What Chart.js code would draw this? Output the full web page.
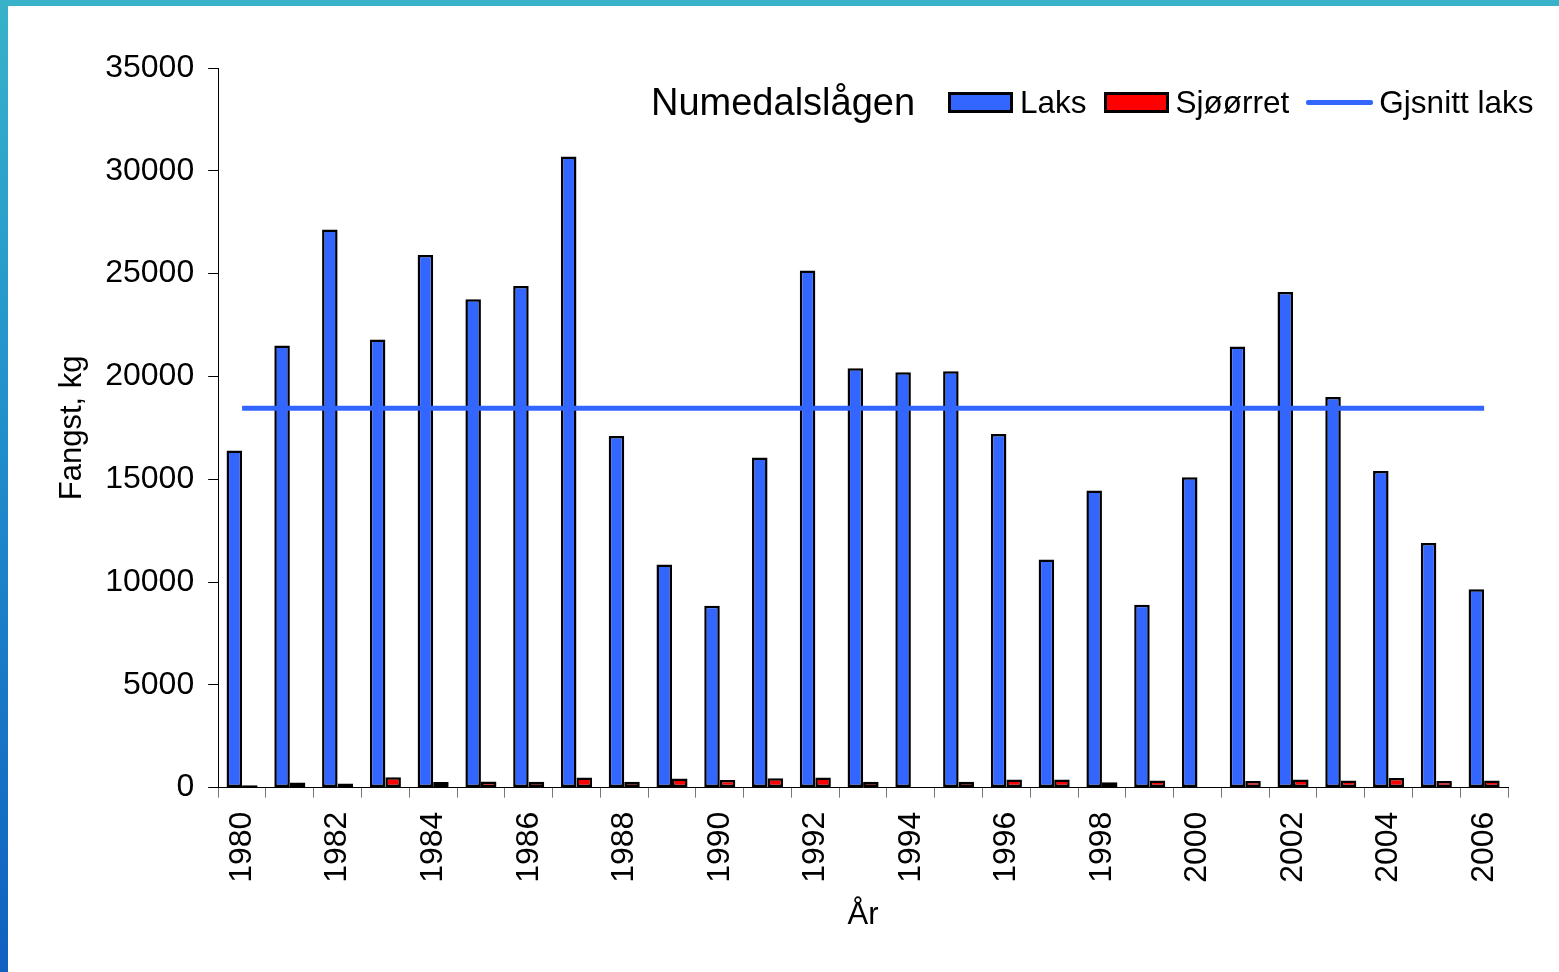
<!DOCTYPE html>
<html>
<head>
<meta charset="utf-8">
<title>Numedalslågen</title>
<script src="https://cdn.jsdelivr.net/npm/chart.js@4.4.1/dist/chart.umd.min.js"></script>
<style>
  body { margin: 0; background: #fff; font-family: 'Liberation Sans', Arial, sans-serif; }
  #wrap { position: relative; width: 1559px; height: 972px; overflow: hidden; background: #fff; }
  #chart { position: absolute; left: 0; top: 0; }
  #top-bar { position: absolute; left: 0; top: 0; width: 1559px; height: 6px; background: #38b2c9; }
  #left-bar { position: absolute; left: 0; top: 0; width: 8px; height: 972px;
              background: linear-gradient(#38b2c9, #2392cc 40%, #1060c0); }
  #legend { position: absolute; left: 651px; top: 80px; height: 44px; display: flex; align-items: center;
            white-space: nowrap; color: #000; font-size: 31.5px; }
  #legend .title { font-size: 38px; margin-right: 33px; }
  #legend .item { display: flex; align-items: center; margin-right: 17px; }
  #legend .box { box-sizing: border-box; width: 65px; height: 21px; border: 3px solid #000; margin-right: 7px; }
  #legend .line { width: 67px; height: 5px; border-radius: 2px; margin-right: 6px; }
</style>
</head>
<body>
<div id="wrap">
  <canvas id="chart" width="1559" height="972"></canvas>
  <div id="top-bar"></div>
  <div id="left-bar"></div>
  <div id="legend"><span class="title">Numedalslågen</span></div>
</div>
<script>
'use strict';

// data (kg)
const years = ['1980', '1981', '1982', '1983', '1984', '1985', '1986', '1987', '1988', '1989',
               '1990', '1991', '1992', '1993', '1994', '1995', '1996', '1997', '1998', '1999',
               '2000', '2001', '2002', '2003', '2004', '2005', '2006'];
const laks = [16400, 21500, 27150, 21800, 25900, 23750, 24400, 30700, 17100, 10850,
              8850, 16050, 25150, 20400, 20200, 20250, 17200, 11100, 14450, 8900,
              15100, 21450, 24100, 19000, 15400, 11900, 9650];
const sjoorret = [120, 250, 200, 500, 270, 300, 290, 490, 290, 440,
                  370, 450, 490, 280, null, 280, 400, 400, 260, 340,
                  null, 320, 400, 340, 470, 320, 340];
const gjsnittLaks = 18450;
const yTicks = [0, 5000, 10000, 15000, 20000, 25000, 30000, 35000];

Chart.defaults.font.family = "'Liberation Sans', Arial, sans-serif";
Chart.defaults.color = '#000';

const ctx = document.getElementById('chart').getContext('2d');

const chart = new Chart(ctx, {
  type: 'bar',
  data: {
    labels: years,
    datasets: [{
      label: 'Laks',
      data: laks,
      backgroundColor: '#3366ff',
      borderColor: '#000',
      borderWidth: 2.5,
      borderSkipped: false,
      categoryPercentage: 0.65,
      barPercentage: 1.0,
      order: 1
    }, {
      label: 'Sjøørret',
      data: sjoorret,
      backgroundColor: '#ff0000',
      borderColor: '#000',
      borderWidth: 2.5,
      borderSkipped: false,
      categoryPercentage: 0.65,
      barPercentage: 1.0,
      order: 1
    }, {
      type: 'line',
      label: 'Gjsnitt laks',
      data: years.map(() => gjsnittLaks),
      borderColor: '#3366ff',
      backgroundColor: '#3366ff',
      borderWidth: 5,
      pointRadius: 0,
      fill: false,
      order: 0
    }]
  },
  options: {
    responsive: false,
    animation: false,
    layout: { padding: { left: 50, top: 68, right: 51, bottom: 34 } },
    plugins: {
      legend: { display: false },
      tooltip: { enabled: false }
    },
    scales: {
      x: {
        grid: { offset: true, drawOnChartArea: false, tickLength: 10, color: '#777' },
        border: { color: '#000', width: 1 },
        ticks: {
          autoSkip: false,
          minRotation: 90,
          maxRotation: 90,
          padding: 14,
          font: { size: 32 },
          callback: (v, i) => (i % 2 === 0 ? years[i] : '')
        },
        title: { display: true, text: 'År', font: { size: 31 }, padding: { top: 0, bottom: 4 } }
      },
      y: {
        min: 0,
        max: 35000,
        afterBuildTicks: axis => { axis.ticks = yTicks.map(v => ({ value: v })); },
        ticks: { padding: 14, font: { size: 32 }, callback: v => String(v) },
        grid: { drawOnChartArea: false, tickLength: 10, color: '#000' },
        border: { color: '#000', width: 1 },
        title: { display: true, text: 'Fangst, kg', font: { size: 31 }, padding: { top: 4, bottom: 0 } }
      }
    }
  }
});

// legend built from the chart's own datasets
const legend = document.getElementById('legend');
chart.data.datasets.forEach(ds => {
  const item = document.createElement('span');
  item.className = 'item';
  const mark = document.createElement('span');
  if (ds.type === 'line') {
    mark.className = 'line';
    mark.style.background = ds.borderColor;
  } else {
    mark.className = 'box';
    mark.style.background = ds.backgroundColor;
  }
  const txt = document.createElement('span');
  txt.textContent = ds.label;
  item.appendChild(mark);
  item.appendChild(txt);
  legend.appendChild(item);
});
</script>
</body>
</html>
